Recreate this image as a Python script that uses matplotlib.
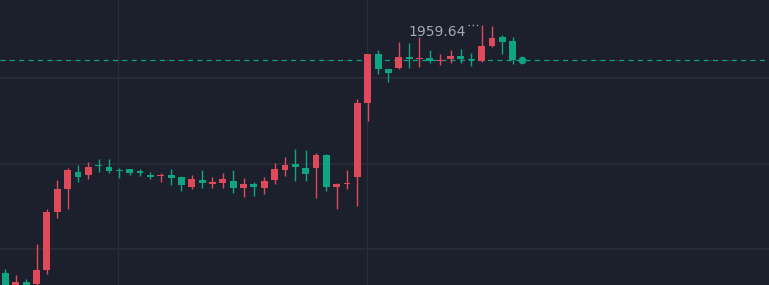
import matplotlib
matplotlib.use("Agg")
import matplotlib.pyplot as plt
import numpy as np

# ---- data ----
opens = [1915.01, 1911.53, 1913.39, 1912.97, 1915.49, 1925.98, 1930.07, 1933.18, 1932.54, 1934.44,
         1934.08, 1933.49, 1933.62, 1933.26, 1932.54, 1932.41, 1932.59, 1932.28, 1930.48, 1931.69,
         1930.93, 1931.20, 1931.60, 1930.30, 1930.97, 1930.30, 1931.69, 1933.44, 1934.57, 1933.85,
         1933.89, 1936.14, 1930.48, 1930.97, 1932.28, 1945.61, 1954.37, 1951.63, 1951.81, 1953.88,
         1953.43, 1953.61, 1953.16, 1953.47, 1954.06, 1953.42, 1953.16, 1955.87, 1957.48, 1956.77]
highs = [1915.67, 1914.59, 1913.87, 1920.17, 1926.42, 1931.69, 1933.85, 1934.39, 1934.98, 1935.47,
         1935.47, 1933.80, 1933.72, 1933.62, 1933.13, 1933.00, 1933.72, 1932.41, 1932.54, 1933.49,
         1932.28, 1932.95, 1933.49, 1932.05, 1931.38, 1932.28, 1934.80, 1935.88, 1937.27, 1937.09,
         1936.55, 1936.37, 1931.20, 1933.49, 1946.22, 1954.37, 1955.09, 1951.63, 1956.62, 1956.40,
         1957.48, 1955.09, 1954.37, 1955.09, 1955.27, 1954.50, 1959.64, 1959.50, 1957.79, 1957.48]
lows = [1911.35, 1910.99, 1911.35, 1912.07, 1914.77, 1924.90, 1926.47, 1931.38, 1931.82, 1933.18,
        1933.00, 1932.05, 1932.54, 1932.41, 1931.82, 1931.33, 1930.74, 1929.76, 1930.02, 1930.34,
        1930.34, 1930.34, 1929.40, 1928.68, 1928.86, 1929.17, 1930.97, 1932.46, 1931.56, 1931.56,
        1928.54, 1929.76, 1926.47, 1930.03, 1927.10, 1942.40, 1950.77, 1949.37, 1951.62, 1951.85,
        1952.08, 1952.80, 1952.33, 1952.69, 1952.69, 1952.27, 1952.93, 1955.58, 1954.37, 1952.57]
closes = [1911.89, 1913.39, 1911.89, 1915.49, 1925.98, 1930.07, 1933.49, 1932.28, 1934.08, 1934.16,
          1933.36, 1933.26, 1933.00, 1932.90, 1932.28, 1932.64, 1932.10, 1930.74, 1931.82, 1931.20,
          1931.42, 1931.83, 1930.34, 1931.06, 1930.38, 1931.60, 1933.62, 1934.34, 1934.08, 1932.77,
          1936.14, 1930.48, 1931.01, 1931.20, 1945.55, 1954.37, 1951.67, 1951.04, 1953.87, 1953.42,
          1953.61, 1953.16, 1953.38, 1954.06, 1953.47, 1953.24, 1955.90, 1957.25, 1956.58, 1953.29]

y_grid = [1919.27, 1934.63, 1950.00]
x_grid = [10.9, 34.95]
max_label = "1959.64"

# ---- style ----
BG = "#1b202c"
GRID = "#272d39"
UP = "#df4a5b"
DOWN = "#0fa583"
LAST = "#12a082"
TXT = "#a3a8b3"

fig = plt.figure(figsize=(7.69, 2.85), dpi=100, facecolor=BG)
ax = fig.add_axes([0, 0, 1, 1])
ax.set_facecolor(BG)

n = len(opens)
x = np.arange(n)
o = np.array(opens); c = np.array(closes); h = np.array(highs); l = np.array(lows)
up = c >= o
colors = np.where(up, UP, DOWN)

for yg in y_grid:
    ax.axhline(yg, color=GRID, lw=1.2, zorder=0)
for xg in x_grid:
    ax.axvline(xg, color=GRID, lw=1.0, zorder=0)

ax.vlines(x, l, h, colors=colors, lw=1.0, zorder=2)
bottoms = np.minimum(o, c)
heights = np.maximum(np.abs(c - o), 0.22)
ax.bar(x, heights, bottom=bottoms, width=0.66, color=colors, edgecolor="none", zorder=3)

last = closes[-1]
ax.axhline(last, color=LAST, lw=0.9, dashes=(4, 3.5), zorder=1)
ax.plot([n - 1 + 0.9], [last], "o", color=LAST, ms=5.5, mec="none", zorder=4)

imax = int(np.argmax(h))
ax.plot([imax - 1.3, imax - 0.15], [h[imax], h[imax]], color=TXT, lw=1, ls=(0, (1, 2)), zorder=4)
ax.text(imax - 1.5, h[imax] + 0.02, max_label, color=TXT, fontsize=10,
        ha="right", va="top", zorder=5)

ax.set_xlim(-0.531, 73.77)
ax.set_ylim(1912.79, 1964.09)
ax.axis("off")

fig.savefig("out.png", dpi=100, facecolor=BG)
